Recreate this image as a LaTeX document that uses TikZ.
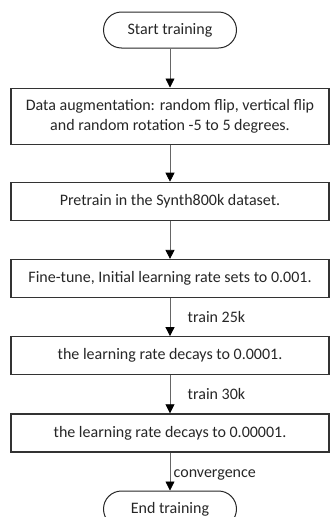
\documentclass[tikz,border=0pt]{standalone}
\usepackage{fontspec}
\setmainfont{Carlito}
\usetikzlibrary{positioning,arrows.meta}

\tikzset{
  terminal/.style={draw=black!85, line width=1pt, rounded corners=18pt,
    minimum width=133pt, minimum height=36pt},
  stepbox/.style={draw=black!80, line width=1.2pt, align=center,
    minimum width=318pt, minimum height=38pt},
  flow/.style={draw=black!60, line width=0.8pt,
    -{Triangle[width=9pt,length=9pt,black]}},
  steplabel/.style={right=14pt},
}

\begin{document}
\begin{tikzpicture}[font=\fontsize{16}{20}\selectfont, text=black!85]
  \useasboundingbox (0,0) rectangle (330pt,-517pt);

  % start and end
  \node[terminal] (start) at (170pt,-30pt) {Start training};

  % training steps
  \node[stepbox, minimum height=56pt, below=39pt of start] (augment)
    {Data augmentation: random flip, vertical flip\\and random rotation -5 to 5 degrees.};
  \node[stepbox, below=37pt of augment] (pretrain) {Pretrain in the Synth800k dataset.};
  \node[stepbox, below=38pt of pretrain] (finetune) {Fine-tune, Initial learning rate sets to 0.001.};
  \node[stepbox, below=38pt of finetune] (decayone) {the learning rate decays to 0.0001.};
  \node[stepbox, below=38pt of decayone] (decaytwo) {the learning rate decays to 0.00001.};

  \node[terminal, below=38pt of decaytwo] (finish) {End training};

  % arrows
  \draw[flow] (start) -- (augment);
  \draw[flow] (augment) -- (pretrain);
  \draw[flow] (pretrain) -- (finetune);
  \draw[flow] (finetune) -- node[steplabel] {train 25k} (decayone);
  \draw[flow] (decayone) -- node[steplabel] {train 30k} (decaytwo);
  \draw[flow] (decaytwo) -- node[right=0pt, pos=0.6] {convergence} (finish);
\end{tikzpicture}
\end{document}
